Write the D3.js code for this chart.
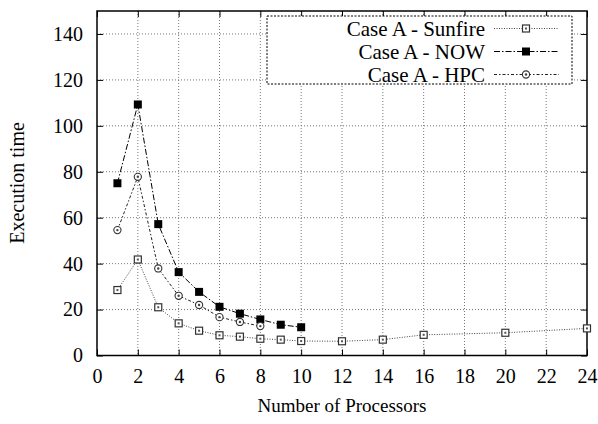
<!DOCTYPE html>
<html><head><meta charset="utf-8">
<script src="https://cdn.jsdelivr.net/npm/d3@7"></script>
<style>body{margin:0;background:#fff}svg{display:block}svg text{font-family:"Liberation Serif","Times New Roman",Times,"DejaVu Serif",serif !important;fill:#000}</style>
</head><body><svg id="c" width="598" height="424"></svg>
<script>
const xTicks = [0,2,4,6,8,10,12,14,16,18,20,22,24];
const yTicks = [0,20,40,60,80,100,120,140];
const sunfireX = [1,2,3,4,5,6,7,8,9,10,12,14,16,20,24];
const sunfireY = [28.5,41.8,21.0,14.0,10.8,8.8,8.2,7.3,6.9,6.3,6.2,6.9,9.0,9.9,11.8];
const nowX = [1,2,3,4,5,6,7,8,9,10];
const nowY = [75,109.3,57.2,36.3,27.7,21.2,18.2,15.7,13.4,12.3];
const hpcX = [1,2,3,4,5,6,7,8];
const hpcY = [54.6,77.8,37.9,26.0,22.0,16.7,14.6,12.8];
const seriesNames = ["Case A - Sunfire","Case A - NOW","Case A - HPC"];

const svg = d3.select("#c");
const L=97, R=587, T=11, B=355.5;
const x = d3.scaleLinear().domain([0,24]).range([L,R]);
const y = d3.scaleLinear().domain([0,150]).range([B,T]);

// grid
const g = svg.append("g");
g.selectAll(".gx").data(xTicks.filter(d=>d>0&&d<24)).enter().append("line")
 .attr("x1",d=>x(d)).attr("x2",d=>x(d)).attr("y1",T).attr("y2",B)
 .attr("stroke","#777").attr("stroke-width",1).attr("stroke-dasharray","1,2");
g.selectAll(".gy").data(yTicks.filter(d=>d>0)).enter().append("line")
 .attr("x1",L).attr("x2",R).attr("y1",d=>y(d)).attr("y2",d=>y(d))
 .attr("stroke","#777").attr("stroke-width",1).attr("stroke-dasharray","1,2");

// axes with inner ticks
const ax = svg.append("g").attr("transform",`translate(0,${B})`)
 .call(d3.axisBottom(x).tickValues(xTicks).tickSizeInner(-6).tickSizeOuter(0).tickPadding(13));
const ax2 = svg.append("g").attr("transform",`translate(0,${T})`)
 .call(d3.axisTop(x).tickValues(xTicks).tickSizeInner(-6).tickSizeOuter(0).tickFormat(""));
const ay = svg.append("g").attr("transform",`translate(${L},0)`)
 .call(d3.axisLeft(y).tickValues(yTicks).tickSizeInner(-6).tickSizeOuter(0).tickPadding(14));
const ay2 = svg.append("g").attr("transform",`translate(${R},0)`)
 .call(d3.axisRight(y).tickValues(yTicks).tickSizeInner(-6).tickSizeOuter(0).tickFormat(""));
[ax,ax2,ay,ay2].forEach(a=>{a.attr("font-family",null).attr("font-size",null);
 a.select(".domain").remove();a.selectAll("line").attr("stroke","#000");
 a.selectAll("text").style("font-size","20px");});
ax.selectAll("text").attr("dy","0.71em");

svg.append("rect").attr("x",L).attr("y",T).attr("width",R-L).attr("height",B-T)
 .attr("fill","none").attr("stroke","#000").attr("stroke-width",1.5);

// series
const series = [
 {name:seriesNames[0], xs:sunfireX, ys:sunfireY, dash:"1,1.5", color:"#444", marker:"sq"},
 {name:seriesNames[1], xs:nowX, ys:nowY, dash:"6,2,1.5,2", color:"#000", marker:"fsq"},
 {name:seriesNames[2], xs:hpcX, ys:hpcY, dash:"3,2,1.5,2", color:"#222", marker:"circ"}
];
const line = d3.line().x(d=>x(d[0])).y(d=>y(d[1]));
function marker(sel, px, py, type){
 if(type==="sq"){
  sel.append("rect").attr("x",px-3.5).attr("y",py-3.5).attr("width",7).attr("height",7)
   .attr("fill","#fff").attr("stroke","#333").attr("stroke-width",1.2);
  sel.append("rect").attr("x",px-1).attr("y",py-1).attr("width",2).attr("height",2).attr("fill","#555");
 } else if(type==="fsq"){
  sel.append("rect").attr("x",px-4).attr("y",py-4).attr("width",8).attr("height",8).attr("fill","#000");
 } else {
  sel.append("circle").attr("cx",px).attr("cy",py).attr("r",3.6)
   .attr("fill","#fff").attr("stroke","#333").attr("stroke-width",1.1);
  sel.append("circle").attr("cx",px).attr("cy",py).attr("r",1.2).attr("fill","#444");
 }
}
series.forEach(s=>{
 const pts = s.xs.map((v,i)=>[v,s.ys[i]]);
 svg.append("path").attr("d",line(pts)).attr("fill","none").attr("stroke",s.color)
  .attr("stroke-width",1).attr("stroke-dasharray",s.dash);
 const mg = svg.append("g");
 pts.forEach(p=>marker(mg,x(p[0]),y(p[1]),s.marker));
});

// legend
const lg = svg.append("g");
lg.append("rect").attr("x",267).attr("y",16).attr("width",305).attr("height",68)
 .attr("fill","#fff").attr("stroke","#000").attr("stroke-width",1).attr("stroke-dasharray","2,1.5");
series.forEach((s,i)=>{
 const cy = 28.5 + i*23;
 lg.append("text").attr("x",485).attr("y",cy).attr("dy","0.35em").attr("text-anchor","end")
  .style("font-size","21px").text(s.name);
 lg.append("line").attr("x1",494).attr("x2",559).attr("y1",cy).attr("y2",cy)
  .attr("stroke",s.color).attr("stroke-dasharray",s.dash);
 marker(lg,526,cy,s.marker);
});

// titles
svg.append("text").attr("x",342).attr("y",412).attr("text-anchor","middle").style("font-size","19px")
 .text("Number of Processors");
svg.append("text").attr("transform","translate(24,183) rotate(-90)").attr("text-anchor","middle")
 .style("font-size","20px").text("Execution time");
</script></body></html>
